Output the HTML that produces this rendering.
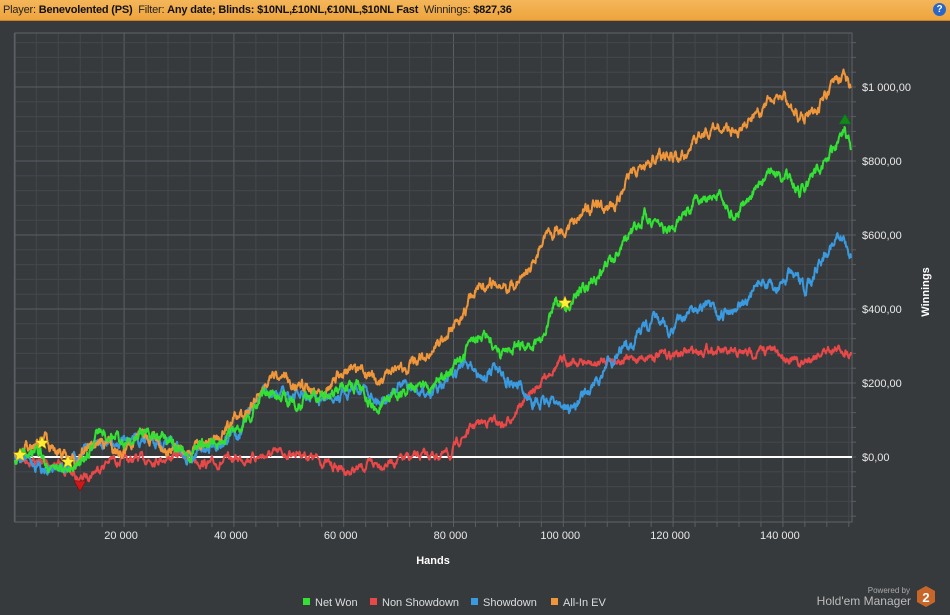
<!DOCTYPE html>
<html><head><meta charset="utf-8">
<style>
html,body{margin:0;padding:0;}
body{width:950px;height:615px;background:#373a3d;overflow:hidden;position:relative;font-family:"Liberation Sans","DejaVu Sans",sans-serif;}
#hdr{position:absolute;left:0;top:0;width:950px;height:20px;background:linear-gradient(#f4b65a,#eea43c);border-bottom:1px solid #c9822a;font-size:11px;line-height:20px;color:#222;letter-spacing:-0.2px;}
#hdr span{margin-left:3px;}
#hdr b{font-weight:bold;color:#111;}
#help{position:absolute;right:4px;top:3px;width:13px;height:13px;border-radius:50%;background:#2a66c8;color:#fff;font-size:10px;line-height:13px;text-align:center;font-weight:bold;}
svg{position:absolute;left:0;top:0;}
</style></head><body>
<div id="hdr"><span>Player: <b>Benevolented (PS)</b> &nbsp;Filter: <b>Any date; Blinds: $10NL,£10NL,€10NL,$10NL Fast</b> &nbsp;Winnings: <b>$827,36</b></span><div id="help">?</div></div>
<svg id="s" width="950" height="615" xmlns="http://www.w3.org/2000/svg"></svg>
<script>
var s=document.getElementById('s'),h='';
var L=15,R=852,T=33,B=522;
function xh(v){return 14.3+v*0.00549;}
for(var i=0;i<=40;i++){var x=14.3+i*21.96;if(x>R)break;var maj=i%5==0;
 h+='<line x1="'+x+'" y1="'+T+'" x2="'+x+'" y2="'+B+'" stroke="'+(maj?'#5a5e62':'#44484c')+'" stroke-width="1"/>';
 if(x>L)h+='<line x1="'+x+'" y1="'+B+'" x2="'+x+'" y2="'+(B+5)+'" stroke="#5a5e62"/>';}
for(var i=-12;i<=30;i++){var y=457-i*14.8;if(y<T||y>B)continue;var maj=i%5==0;
 h+='<line x1="'+L+'" y1="'+y+'" x2="'+R+'" y2="'+y+'" stroke="'+(maj?'#5a5e62':'#44484c')+'" stroke-width="1"/>';
 h+='<line x1="'+R+'" y1="'+y+'" x2="'+(R+4)+'" y2="'+y+'" stroke="#5a5e62"/>';}
h+='<rect x="'+L+'" y="'+T+'" width="'+(R-L)+'" height="'+(B-T)+'" fill="none" stroke="#5f6367"/>';
var lab=['$0,00','$200,00','$400,00','$600,00','$800,00','$1 000,00'];
for(var i=0;i<6;i++){h+='<text x="862" y="'+(461-i*74)+'" fill="#e8e8e8" font-size="11">'+lab[i]+'</text>';}
for(var i=1;i<=7;i++){h+='<text x="'+(xh(i*20000)-3)+'" y="539" fill="#e8e8e8" font-size="11" text-anchor="middle">'+(i*20)+' 000</text>';}
h+='<text x="433" y="564" fill="#fff" font-size="11" font-weight="bold" text-anchor="middle">Hands</text>';
h+='<text transform="translate(929,292) rotate(-90)" fill="#fff" font-size="11" font-weight="bold" text-anchor="middle">Winnings</text>';
var seed=7;function rnd(){seed=(seed*16807)%2147483647;return seed/2147483647;}
function path(pts,col,amp){var d='M'+pts[0][0]+' '+pts[0][1],n=0;
 for(var k=0;k<pts.length-1;k++){var a=pts[k],b=pts[k+1];
  for(var x=a[0];x<b[0];x+=0.5){var t=(x-a[0])/(b[0]-a[0]);n=n*0.8+(rnd()-0.5)*amp;
   d+=' L'+x.toFixed(1)+' '+(a[1]+(b[1]-a[1])*t+n).toFixed(1);}}
 d+=' L'+pts[pts.length-1][0]+' '+pts[pts.length-1][1];
 return '<path d="'+d+'" fill="none" stroke="'+col+'" stroke-width="2" stroke-linejoin="round"/>';}
var red=[[15,457],[40,462],[60,465],[80,480],[95,470],[110,460],[130,460],[160,458],[185,455],[210,465],[240,458],[270,455],[300,452],[330,465],[350,472],[370,465],[400,460],[430,455],[450,455],[460,440],[475,425],[490,420],[505,425],[520,405],[535,390],[550,370],[565,360],[580,362],[595,365],[610,358],[630,360],[650,355],[670,355],[690,352],[710,348],[730,355],[750,353],[770,350],[790,358],[800,365],[815,355],[830,348],[845,350],[851,352]];
var blue=[[15,455],[40,465],[60,470],[80,455],[100,440],[130,440],[160,440],[190,460],[215,445],[240,430],[260,395],[290,395],[320,400],[345,390],[360,385],[380,400],[400,385],[420,395],[440,390],[460,370],[470,360],[480,380],[495,365],[510,380],[525,395],[540,405],[555,400],[570,410],[585,395],[600,380],[610,360],[625,350],[640,330],[655,320],[670,330],[690,310],[705,305],[720,320],[735,305],[750,300],[760,280],[775,290],[790,275],[805,290],[820,260],[830,245],[845,240],[851,258]];
var orange=[[15,455],[30,445],[45,440],[60,450],[75,460],[90,445],[100,440],[120,455],[140,432],[150,440],[165,445],[185,455],[200,445],[215,440],[235,420],[250,410],[262,385],[280,380],[300,385],[320,390],[340,375],[360,368],[380,385],[400,370],[420,360],[440,340],[460,318],[475,290],[490,280],[500,290],[515,285],[530,270],[540,245],[555,230],[570,225],[590,205],[610,210],[630,175],[660,155],[680,160],[690,150],[700,135],[720,125],[740,135],[760,110],[775,100],[785,95],[800,120],[810,110],[820,105],[830,90],[845,75],[851,88]];
var green=[[15,460],[25,450],[40,455],[50,468],[65,470],[80,465],[100,430],[120,440],[150,430],[170,440],[190,455],[200,445],[220,440],[240,430],[255,410],[265,390],[280,400],[300,405],[320,395],[345,390],[360,385],[375,410],[390,395],[410,390],[430,385],[450,375],[465,350],[480,330],[490,340],[500,355],[515,345],[530,350],[545,335],[555,300],[565,310],[580,290],[600,275],[620,250],[645,215],[670,235],[685,215],[700,200],[715,190],[730,215],[745,205],[760,180],[775,170],[790,180],[800,190],[815,175],[825,160],[835,150],[845,130],[851,150]];
h+='<line x1="'+L+'" y1="457" x2="'+R+'" y2="457" stroke="#fff" stroke-width="2"/>';
h+=path(red,'#e84848',6)+path(blue,'#3a9ae0',8)+path(orange,'#f0963a',8)+path(green,'#33e033',8);
function star(cx,cy){var p='';for(var i=0;i<10;i++){var r=i%2?3:7,a=Math.PI/5*i-Math.PI/2;p+=(cx+r*Math.cos(a)).toFixed(1)+','+(cy+r*Math.sin(a)).toFixed(1)+' ';}
 return '<polygon points="'+p+'" fill="#ffee33" stroke="#c8a000" stroke-width="0.5"/>';}
h+=star(20,455)+star(42,443)+star(68,462)+star(565,303);
h+='<polygon points="74,481 86,481 80,491" fill="#d01818" stroke="#700" stroke-width="0.5"/>';
h+='<polygon points="839,124 851,124 845,114" fill="#118811" stroke="#063" stroke-width="0.5"/>';
var lg=[['#33e033','Net Won',303],['#e84848','Non Showdown',370],['#3a9ae0','Showdown',471],['#f0963a','All-In EV',551]];
lg.forEach(function(e){h+='<rect x="'+e[2]+'" y="598" width="7" height="7" fill="'+e[0]+'"/><text x="'+(e[2]+12)+'" y="606" fill="#ddd" font-size="11">'+e[1]+'</text>';});
h+='<text x="910" y="593" fill="#aaa" font-size="8" text-anchor="end">Powered by</text>';
h+='<text x="911" y="605" fill="#bbb" font-size="12" text-anchor="end">Hold\'em Manager</text>';
h+='<polygon points="926,586 935,591 935,602 926,607 917,602 917,591" fill="#c8662a"/>';
h+='<text x="926" y="602" fill="#fff" font-size="13" font-weight="bold" text-anchor="middle">2</text>';
s.innerHTML=h;
</script>
</body></html>
